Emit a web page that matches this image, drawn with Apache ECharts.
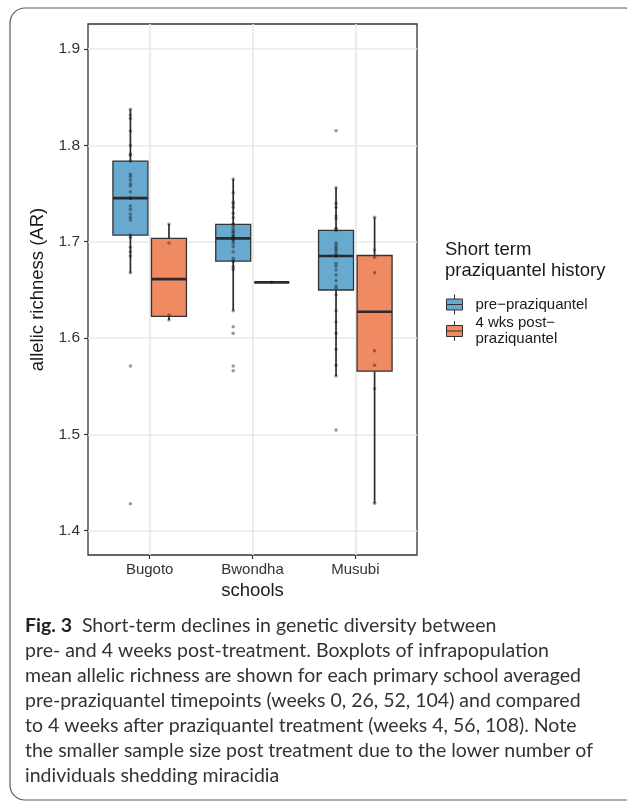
<!DOCTYPE html>
<html>
<head>
<meta charset="utf-8">
<script src="https://cdn.jsdelivr.net/npm/echarts@6/dist/echarts.min.js"></script>
<style>
  html, body { margin: 0; padding: 0; background: #fff; }
  #chart { width: 627px; height: 801px; }
</style>
</head>
<body>
<div id="chart"></div>
<script>
const schools = ['Bugoto', 'Bwondha', 'Musubi'];
const groups = ['pre−praziquantel', '4 wks post−praziquantel'];
const yTicks = [1.4, 1.5, 1.6, 1.7, 1.8, 1.9];

// mean allelic richness per infrapopulation
const bugotoPre = [1.8374, 1.8315, 1.828, 1.8149, 1.800, 1.791, 1.7897, 1.7837, 1.770, 1.7675,
  1.764, 1.760, 1.7578, 1.7519, 1.7453, 1.745, 1.737, 1.7336, 1.7287, 1.7253,
  1.7225, 1.7069, 1.7045, 1.6942, 1.6896, 1.6851, 1.6678, 1.571, 1.428];
const bugotoPost = [1.7184, 1.6986, 1.6239, 1.6187];
const bwondhaPre = [1.7651, 1.7508, 1.7409, 1.7391, 1.7357, 1.7295, 1.7249, 1.7184, 1.718, 1.7149,
  1.712, 1.7104, 1.7087, 1.706, 1.7059, 1.704, 1.703, 1.7025, 1.701, 1.6983,
  1.6948, 1.6896, 1.6827, 1.680, 1.6795, 1.6741, 1.6713, 1.6284, 1.6117, 1.6049, 1.571, 1.5661];
const bwondhaPost = [1.6578];
const musubiPre = [1.8152, 1.756, 1.7398, 1.7357, 1.7267, 1.7239, 1.7139, 1.7128, 1.7114, 1.6989,
  1.6965, 1.6942, 1.6921, 1.690, 1.6872, 1.6853, 1.6851, 1.6776, 1.6748, 1.6706,
  1.6654, 1.6595, 1.654, 1.6516, 1.6447, 1.6284, 1.6166, 1.6049, 1.5883, 1.5717, 1.5606, 1.5045];
const musubiPost = [1.7253, 1.6914, 1.6838, 1.6678, 1.5868, 1.5717, 1.5474, 1.4284];

const preValues = [bugotoPre, bwondhaPre, musubiPre];
const postValues = [bugotoPost, bwondhaPost, musubiPost];
const colors = ['#67a9cf', '#ef8a62'];

const font = 'Liberation Sans';
const dodge = 0.1875;   // half of the dodge width
const boxWidth = 0.34;  // in category units

// R type 7 quantile, whiskers to the last point inside 1.5 IQR (like ggplot)
function quantile(s, p) {
  const h = (s.length - 1) * p;
  const lo = Math.floor(h);
  const hi = Math.min(lo + 1, s.length - 1);
  return s[lo] + (h - lo) * (s[hi] - s[lo]);
}
function boxStats(values) {
  const s = values.slice().sort((a, b) => a - b);
  const q1 = quantile(s, 0.25), med = quantile(s, 0.5), q3 = quantile(s, 0.75);
  const iqr = q3 - q1;
  const inside = s.filter(v => v >= q1 - 1.5 * iqr && v <= q3 + 1.5 * iqr);
  return [inside[0], q1, med, q3, inside[inside.length - 1]];
}

function boxData(list, offset) {
  return list.map((vals, i) => [i + 1 + offset].concat(boxStats(vals)));
}
function pointData(list, offset) {
  const out = [];
  list.forEach((vals, i) => vals.forEach(v => out.push([i + 1 + offset, v])));
  return out;
}

function renderBox(params, api) {
  const x = api.value(0);
  const half = api.size([boxWidth, 0])[0] / 2;
  const lo = api.coord([x, api.value(1)]);
  const q1 = api.coord([x, api.value(2)]);
  const med = api.coord([x, api.value(3)]);
  const q3 = api.coord([x, api.value(4)]);
  const hi = api.coord([x, api.value(5)]);
  const line = { stroke: '#2b2b2b', lineWidth: 1.7 };
  return {
    type: 'group',
    children: [
      { type: 'line', shape: { x1: lo[0], y1: lo[1], x2: q1[0], y2: q1[1] }, style: line },
      { type: 'line', shape: { x1: q3[0], y1: q3[1], x2: hi[0], y2: hi[1] }, style: line },
      { type: 'rect', shape: { x: q1[0] - half, y: q3[1], width: half * 2, height: q1[1] - q3[1] },
        style: { fill: api.visual('color'), stroke: '#333', lineWidth: 1.3 } },
      { type: 'line', shape: { x1: med[0] - half, y1: med[1], x2: med[0] + half, y2: med[1] },
        style: { stroke: '#2b2b2b', lineWidth: 2.7 } }
    ]
  };
}

const boxIcon = 'path://M9,0L9,4.5M1,4.5L17,4.5L17,15.5L1,15.5ZM1,10L17,10M9,15.5L9,20';

const caption =
  '{b|Fig. 3}  Short-term declines in genetic diversity between\n' +
  'pre- and 4 weeks post-treatment. Boxplots of infrapopulation\n' +
  'mean allelic richness are shown for each primary school averaged\n' +
  'pre-praziquantel timepoints (weeks 0, 26, 52, 104) and compared\n' +
  'to 4 weeks after praziquantel treatment (weeks 4, 56, 108). Note\n' +
  'the smaller sample size post treatment due to the lower number of\n' +
  'individuals shedding miracidia';

const chart = echarts.init(document.getElementById('chart'));
chart.setOption({
  animation: false,
  backgroundColor: '#fff',
  graphic: [{
    type: 'rect', silent: true, z: -10,
    shape: { x: 10, y: 8, width: 630, height: 792, r: 15 },
    style: { fill: 'none', stroke: '#5a5a5a', lineWidth: 1.2 }
  }],
  title: [
    {
      text: 'Short term\npraziquantel history', left: 445, top: 239, padding: 0,
      textStyle: { fontFamily: font, fontSize: 18.5, fontWeight: 'normal', color: '#1a1a1a', lineHeight: 21 }
    },
    {
      text: caption, left: 25, top: 613, padding: 0,
      textStyle: {
        fontFamily: 'Lato', fontSize: 19.5, fontWeight: 'normal', color: '#333', lineHeight: 25,
        rich: { b: { fontFamily: 'Lato', fontSize: 19.5, fontWeight: 'bold', color: '#222', lineHeight: 25 } }
      }
    }
  ],
  legend: {
    orient: 'vertical', left: 441, top: 289, itemWidth: 32, itemHeight: 20, itemGap: 0,
    icon: boxIcon, symbolKeepAspect: true, selectedMode: false,
    formatter: n => n.replace('post−', 'post−\n'),
    textStyle: { fontFamily: font, fontSize: 15, color: '#1a1a1a', lineHeight: 16 },
    data: groups.map((g, i) => ({
      name: g, itemStyle: { color: colors[i], borderColor: '#333', borderWidth: 1 }
    }))
  },
  grid: {
    left: 88, right: 210, top: 24, bottom: 246, show: true,
    borderColor: '#333', borderWidth: 1.3, backgroundColor: '#fff'
  },
  xAxis: {
    type: 'value', min: 0.4, max: 3.6,
    name: 'schools', nameLocation: 'middle', nameGap: 26,
    nameTextStyle: { fontFamily: font, fontSize: 18.5, color: '#1a1a1a' },
    axisLine: { show: false },
    axisTick: { show: true, length: 4, customValues: [1, 2, 3], lineStyle: { color: '#333', width: 1.2 } },
    axisLabel: {
      customValues: [1, 2, 3], margin: 7, formatter: v => schools[Math.round(v) - 1],
      fontFamily: font, fontSize: 15, color: '#333'
    },
    splitLine: { show: true, lineStyle: { color: '#e8e8e8', width: 1.6 } }
  },
  yAxis: {
    type: 'value', min: 1.3748, max: 1.926,
    name: 'allelic richness (AR)', nameLocation: 'middle', nameGap: 33,
    nameTextStyle: { fontFamily: font, fontSize: 18.5, color: '#1a1a1a' },
    axisLine: { show: false },
    axisTick: { show: true, length: 4, customValues: yTicks, lineStyle: { color: '#333', width: 1.2 } },
    axisLabel: {
      customValues: yTicks, margin: 8, formatter: v => v.toFixed(1),
      fontFamily: font, fontSize: 15.5, color: '#333'
    },
    splitLine: { show: true, lineStyle: { color: '#e8e8e8', width: 1.6 } }
  },
  series: [
    {
      name: groups[0], type: 'custom', renderItem: renderBox,
      itemStyle: { color: colors[0] },
      encode: { x: 0, y: [1, 2, 3, 4, 5] },
      data: boxData(preValues, -dodge), z: 2
    },
    {
      name: groups[1], type: 'custom', renderItem: renderBox,
      itemStyle: { color: colors[1] },
      encode: { x: 0, y: [1, 2, 3, 4, 5] },
      data: boxData(postValues, dodge), z: 2
    },
    {
      type: 'scatter', symbolSize: 3.6, z: 3, silent: true,
      itemStyle: { color: 'rgba(30,30,30,0.55)' },
      data: pointData(preValues, -dodge).concat(pointData(postValues, dodge))
    }
  ]
});
</script>
</body>
</html>
